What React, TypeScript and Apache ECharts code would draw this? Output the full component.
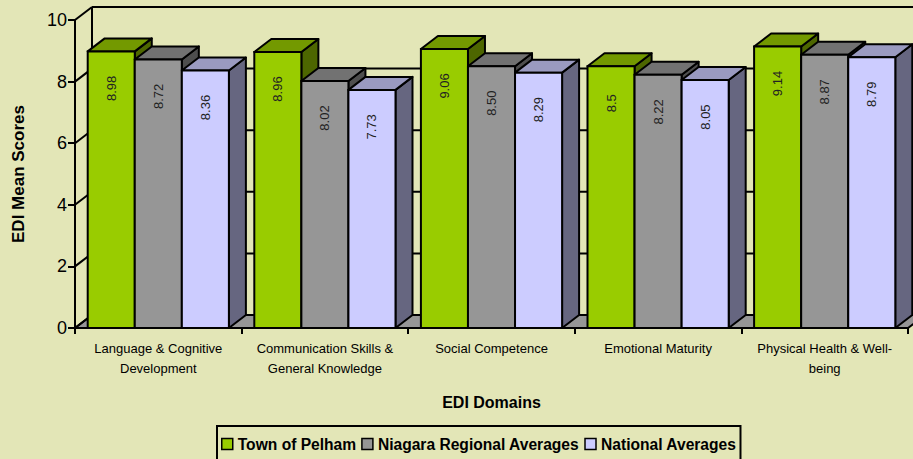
import React, { useEffect, useRef } from "react";
import * as echarts from "echarts";

const categories = [
  "Language & Cognitive\nDevelopment",
  "Communication Skills &\nGeneral Knowledge",
  "Social Competence",
  "Emotional Maturity",
  "Physical Health & Well-\nbeing",
];
const seriesNames = ["Town of Pelham", "Niagara Regional Averages", "National Averages"];
const pelhamLabels = ["8.98", "8.96", "9.06", "8.5", "9.14"];
const niagaraLabels = ["8.72", "8.02", "8.50", "8.22", "8.87"];
const nationalLabels = ["8.36", "7.73", "8.29", "8.05", "8.79"];
const yTicks = [0, 2, 4, 6, 8, 10];
const seriesLabels = [pelhamLabels, niagaraLabels, nationalLabels];

const FRONT = ["#99CC00", "#969696", "#CCCCFF"];
const TOP = ["#739900", "#727272", "#9A9AC0"];
const SIDE = ["#4D6600", "#4E4E4E", "#666680"];
const BG = "#E3E6B7";
const FLOOR = "#969696";
const DX = 17;
const DY = -13;
const LW = 2;
const FONT = "'Liberation Sans', Arial, sans-serif";

export default function App() {
  const ref = useRef<HTMLDivElement>(null);
  useEffect(() => {
    if (!ref.current) return;
    const chart = echarts.init(ref.current, null, { renderer: "svg" });

    const wallSeries: any = {
      type: "custom",
      name: "wall",
      silent: true,
      data: [[0, 0]],
      encode: { x: 0, y: 1 },
      renderItem: (params: any, api: any) => {
        const cs = params.coordSys;
        const x0 = cs.x;
        const x1 = cs.x + cs.width;
        const children: any[] = [];
        const yTop = api.coord([0, yTicks[yTicks.length - 1]])[1];
        const yBot = api.coord([0, 0])[1];
        children.push({
          type: "polygon",
          shape: {
            points: [
              [x0, yBot],
              [x1, yBot],
              [x1 + DX, yBot + DY],
              [x0 + DX, yBot + DY],
            ],
          },
          style: { fill: FLOOR, stroke: "#000", lineWidth: LW },
        });
        yTicks.forEach((v) => {
          const y = api.coord([0, v])[1];
          children.push({
            type: "line",
            shape: { x1: x0 + DX, y1: y + DY, x2: x1 + DX, y2: y + DY },
            style: { stroke: "#000", lineWidth: LW },
          });
          children.push({
            type: "line",
            shape: { x1: x0, y1: y, x2: x0 + DX, y2: y + DY },
            style: { stroke: "#000", lineWidth: LW },
          });
        });
        children.push({
          type: "line",
          shape: { x1: x0 + DX, y1: yTop + DY, x2: x0 + DX, y2: yBot + DY },
          style: { stroke: "#000", lineWidth: LW },
        });
        return { type: "group", children };
      },
    };

    const barSeries = seriesLabels.map((labels, s) => ({
      type: "custom",
      name: seriesNames[s],
      itemStyle: { color: FRONT[s] },
      data: labels.map((l, i) => [i, Number(l)]),
      encode: { x: 0, y: 1 },
      renderItem: (params: any, api: any) => {
        const i = api.value(0);
        const v = api.value(1);
        const base = api.coord([i, 0]);
        const topP = api.coord([i, v]);
        const catW = api.size([1, 0])[0];
        const barW = catW * 0.2825;
        const x = base[0] - 1.5 * barW + s * barW;
        const y0 = base[1];
        const y1 = topP[1];
        return {
          type: "group",
          children: [
            {
              type: "polygon",
              shape: {
                points: [
                  [x + barW, y1],
                  [x + barW + DX, y1 + DY],
                  [x + barW + DX, y0 + DY],
                  [x + barW, y0],
                ],
              },
              style: { fill: SIDE[s], stroke: "#000", lineWidth: LW, lineJoin: "round" },
            },
            {
              type: "polygon",
              shape: {
                points: [
                  [x, y1],
                  [x + DX, y1 + DY],
                  [x + barW + DX, y1 + DY],
                  [x + barW, y1],
                ],
              },
              style: { fill: TOP[s], stroke: "#000", lineWidth: LW, lineJoin: "round" },
            },
            {
              type: "rect",
              shape: { x, y: y1, width: barW, height: y0 - y1 },
              style: { fill: FRONT[s], stroke: "#000", lineWidth: LW },
            },
            {
              type: "text",
              x: x + barW / 2,
              y: y1 + 37,
              rotation: Math.PI / 2,
              style: {
                text: labels[params.dataIndex],
                font: `13px ${FONT}`,
                fill: "#222",
                align: "center",
                verticalAlign: "middle",
              },
            },
          ],
        };
      },
    }));

    chart.setOption({
      animation: false,
      backgroundColor: BG,
      textStyle: { fontFamily: FONT },
      grid: { left: 75, right: 5, top: 20, bottom: 131, containLabel: false },
      legend: {
        left: 217,
        top: 426,
        icon: "rect",
        itemWidth: 11,
        itemHeight: 11,
        itemGap: 5,
        borderColor: "#000",
        borderWidth: 2,
        padding: [10, 4, 13, 4],
        textStyle: { fontSize: 15.6, fontWeight: "bold", color: "#000", fontFamily: FONT },
        itemStyle: { borderColor: "#000", borderWidth: 1.5 },
        data: seriesNames,
      },
      xAxis: {
        type: "category",
        data: categories,
        name: "EDI Domains",
        nameLocation: "middle",
        nameGap: 66,
        nameTextStyle: { fontSize: 16, fontWeight: "bold", color: "#000", fontFamily: FONT, verticalAlign: "top" },
        axisLine: { show: true, lineStyle: { color: "#000", width: LW } },
        axisTick: { show: true, interval: 0, length: 6, lineStyle: { color: "#000", width: LW } },
        axisLabel: { interval: 0, fontSize: 13, lineHeight: 20, color: "#000", margin: 10, fontFamily: FONT },
        splitLine: { show: false },
      },
      yAxis: {
        type: "value",
        min: 0,
        max: 10,
        interval: 2,
        name: "EDI Mean Scores",
        nameLocation: "middle",
        nameGap: 48,
        nameRotate: 90,
        nameTextStyle: { fontSize: 17, fontWeight: "bold", color: "#000", fontFamily: FONT },
        axisLine: { show: true, lineStyle: { color: "#000", width: LW } },
        axisTick: { show: true, length: 7, lineStyle: { color: "#000", width: LW } },
        axisLabel: { fontSize: 18, color: "#000", margin: 8, fontFamily: FONT },
        splitLine: { show: false },
      },
      series: [wallSeries, ...barSeries],
    });
    return () => chart.dispose();
  }, []);
  return (
    <div
      ref={ref}
      style={{ position: "absolute", left: 0, top: 0, width: 913, height: 459 }}
    />
  );
}
